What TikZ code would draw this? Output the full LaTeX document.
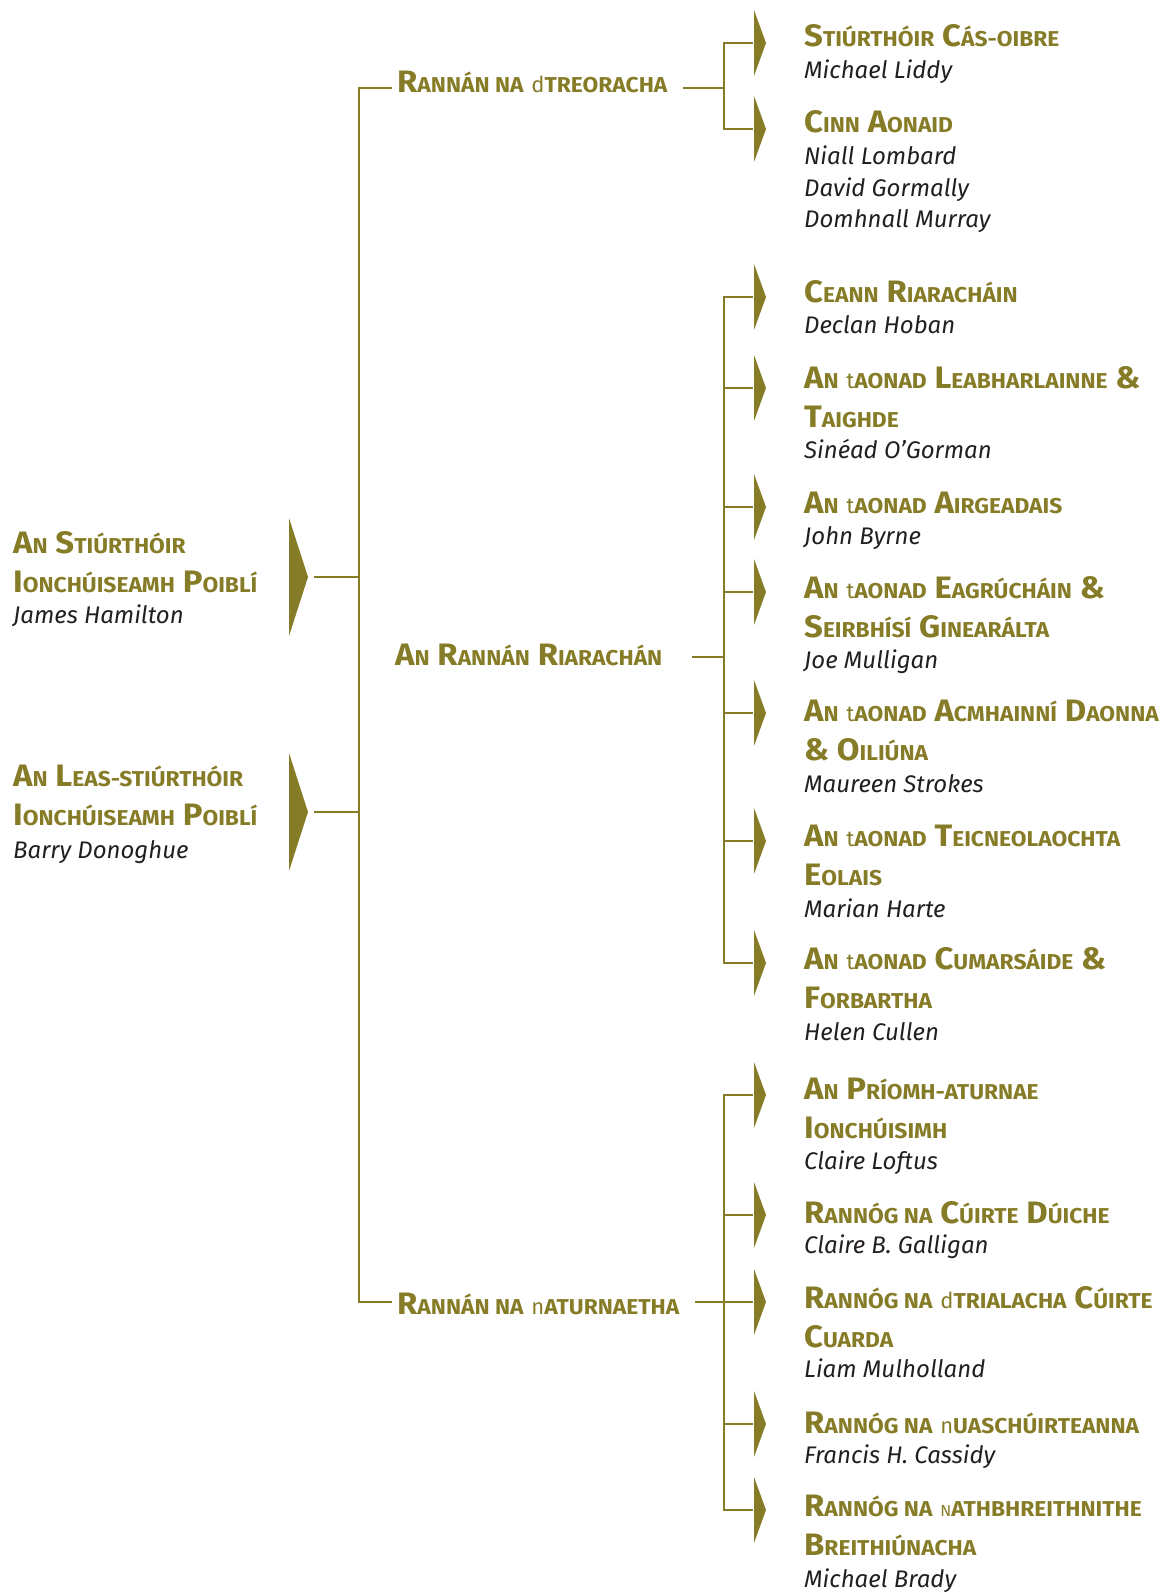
\documentclass[tikz,border=0pt]{standalone}
\usepackage{fontspec}
\setmainfont{Fira Sans}[BoldFeatures={FakeStretch=1.06}]
\usepackage{tikz}

\definecolor{olivehead}{RGB}{134,123,38}
\definecolor{namegrey}{RGB}{35,31,32}
\newcommand\sm[1]{{\fontsize{21.5}{38.5}\selectfont #1}}
\newcommand\lc[1]{{\fontsize{22}{38.5}\selectfont\mdseries #1}}
\newcommand\smn{{\fontsize{16}{38.5}\selectfont\mdseries N}}
\newcommand\arrowtip[1]{\fill[olivehead] (#1) ++(1,-33) -- ++(12,33) -- ++(-12,33) -- cycle;}
\newcommand\bigtip[1]{\fill[olivehead] (#1) ++(-19,-59) -- ++(19,59) -- ++(-19,59) -- cycle;}

\tikzset{
  head/.style={anchor=base west, inner sep=0pt, align=left, text=olivehead,
    font=\bfseries\fontsize{31}{38.5}\selectfont},
  mainlabel/.style={head, inner xsep=5pt},
  who/.style={anchor=base west, inner sep=0pt, align=left, text=namegrey,
    font=\itshape\fontsize{24}{31.5}\selectfont},
  branch/.style={draw=olivehead, line width=2.2pt}
}

\begin{document}
\begin{tikzpicture}[x=1pt,y=-1pt]
    \useasboundingbox (0,0) rectangle (1172,1594);

    % left column (multi-line nodes sit on their last baseline)
    \node[head] (dpp) at (13,592) {A\sm{N} S\sm{TIÚRTHÓIR}\\I\sm{ONCHÚISEAMH} P\sm{OIBLÍ}};
    \node[who] (dppname) at (13,623) {James Hamilton};
    \node[head] (leas) at (13,825) {A\sm{N} L\sm{EAS-STIÚRTHÓIR}\\I\sm{ONCHÚISEAMH} P\sm{OIBLÍ}};
    \node[who] (leasname) at (13,858) {Barry Donoghue};
    \coordinate (dpptip) at (308,577);
    \coordinate (leastip) at (308,812);
    \bigtip{dpptip}
    \bigtip{leastip}

    % divisions
    \node[mainlabel] (treo) at (392,93) {R\sm{ANNÁN NA} \lc{d}\sm{TREORACHA}};
    \node[mainlabel] (riar) at (390,665) {A\sm{N} R\sm{ANNÁN} R\sm{IARACHÁN}};
    \node[mainlabel] (atur) at (392,1314) {R\sm{ANNÁN NA} \lc{n}\sm{ATURNAETHA}};

    \coordinate (trunktop) at (359,88);
    \coordinate (trunkbot) at (359,1302);
    \draw[branch] (trunktop -| treo.west) -- (trunktop) -- (trunkbot) -- (trunkbot -| atur.west);
    \draw[branch] ([xshift=6pt]dpptip) -- (dpptip -| trunktop);
    \draw[branch] ([xshift=6pt]leastip) -- (leastip -| trunktop);

    % units, Rannan na dTreoracha
    \coordinate (a1) at (753,43);
    \coordinate (a2) at (753,129);
    \node[head] (cas) at (804,47) {S\sm{TIÚRTHÓIR} C\sm{ÁS-OIBRE}};
    \node[who] (casname) at (804,79) {Michael Liddy};
    \node[head] (cinn) at (804,133) {C\sm{INN} A\sm{ONAID}};
    \node[who] (cinnname) at (804,228) {Niall Lombard\\David Gormally\\Domhnall Murray};

    % units, An Rannan Riarachan
    \coordinate (a3) at (753,297);
    \coordinate (a4) at (753,388);
    \coordinate (a5) at (753,507);
    \coordinate (a6) at (753,592);
    \coordinate (a7) at (753,713);
    \coordinate (a8) at (753,841);
    \coordinate (a9) at (753,963);
    \node[head] (ceann) at (804,303) {C\sm{EANN} R\sm{IARACHÁIN}};
    \node[who] (ceannname) at (804,334) {Declan Hoban};
    \node[head] (leab) at (804,427) {A\sm{N} \lc{t}\sm{AONAD} L\sm{EABHARLAINNE} \&\\T\sm{AIGHDE}};
    \node[who] (leabname) at (804,458) {Sinéad O’Gorman};
    \node[head] (airg) at (804,513) {A\sm{N} \lc{t}\sm{AONAD} A\sm{IRGEADAIS}};
    \node[who] (airgname) at (804,544) {John Byrne};
    \node[head] (eagr) at (804,637) {A\sm{N} \lc{t}\sm{AONAD} E\sm{AGRÚCHÁIN} \&\\S\sm{EIRBHÍSÍ} G\sm{INEARÁLTA}};
    \node[who] (eagrname) at (804,668) {Joe Mulligan};
    \node[head] (acmh) at (804,760) {A\sm{N} \lc{t}\sm{AONAD} A\sm{CMHAINNÍ} D\sm{AONNA}\\\& O\sm{ILIÚNA}};
    \node[who] (acmhname) at (804,792) {Maureen Strokes};
    \node[head] (teic) at (804,885) {A\sm{N} \lc{t}\sm{AONAD} T\sm{EICNEOLAOCHTA}\\E\sm{OLAIS}};
    \node[who] (teicname) at (804,917) {Marian Harte};
    \node[head] (cuma) at (804,1008) {A\sm{N} \lc{t}\sm{AONAD} C\sm{UMARSÁIDE} \&\\F\sm{ORBARTHA}};
    \node[who] (cumaname) at (804,1040) {Helen Cullen};

    % units, Rannan na nAturnaetha
    \coordinate (a10) at (753,1095);
    \coordinate (a11) at (753,1215);
    \coordinate (a12) at (753,1302);
    \coordinate (a13) at (753,1424);
    \coordinate (a14) at (753,1510);
    \node[head] (prio) at (804,1138) {A\sm{N} P\sm{RÍOMH-ATURNAE}\\I\sm{ONCHÚISIMH}};
    \node[who] (prioname) at (804,1169) {Claire Loftus};
    \node[head] (duic) at (804,1223) {R\sm{ANNÓG NA} C\sm{ÚIRTE} D\sm{ÚICHE}};
    \node[who] (duicname) at (804,1253) {Claire B. Galligan};
    \node[head] (cuar) at (804,1347) {R\sm{ANNÓG NA} \lc{d}\sm{TRIALACHA} C\sm{ÚIRTE}\\C\sm{UARDA}};
    \node[who] (cuarname) at (804,1377) {Liam Mulholland};
    \node[head] (uasc) at (804,1433) {R\sm{ANNÓG NA} \lc{n}\sm{UASCHÚIRTEANNA}};
    \node[who] (uascname) at (804,1463) {Francis H. Cassidy};
    \node[head] (athb) at (804,1555) {R\sm{ANNÓG NA} \smn\sm{ATHBHREITHNITHE}\\B\sm{REITHIÚNACHA}};
    \node[who] (athbname) at (804,1587) {Michael Brady};

    % arrow heads
    \arrowtip{a1} \arrowtip{a2} \arrowtip{a3} \arrowtip{a4} \arrowtip{a5}
    \arrowtip{a6} \arrowtip{a7} \arrowtip{a8} \arrowtip{a9} \arrowtip{a10}
    \arrowtip{a11} \arrowtip{a12} \arrowtip{a13} \arrowtip{a14}

    % sub-trunks
    \coordinate (j1) at (724,88);
    \coordinate (j2) at (724,657);
    \coordinate (j3) at (724,1302);
    \draw[branch] (683,88) -- (j1);
    \draw[branch] (a1) -| (j1) |- (a2);
    \draw[branch] (692,657) -- (j2);
    \draw[branch] (a3) -| (a9 -| j2) -- (a9);
    \draw[branch] (a4 -| j2) -- (a4);
    \draw[branch] (a5 -| j2) -- (a5);
    \draw[branch] (a6 -| j2) -- (a6);
    \draw[branch] (a7 -| j2) -- (a7);
    \draw[branch] (a8 -| j2) -- (a8);
    \draw[branch] (695,1302) -- (a12);
    \draw[branch] (a10) -| (a14 -| j3) -- (a14);
    \draw[branch] (a11 -| j3) -- (a11);
    \draw[branch] (a13 -| j3) -- (a13);
\end{tikzpicture}
\end{document}
